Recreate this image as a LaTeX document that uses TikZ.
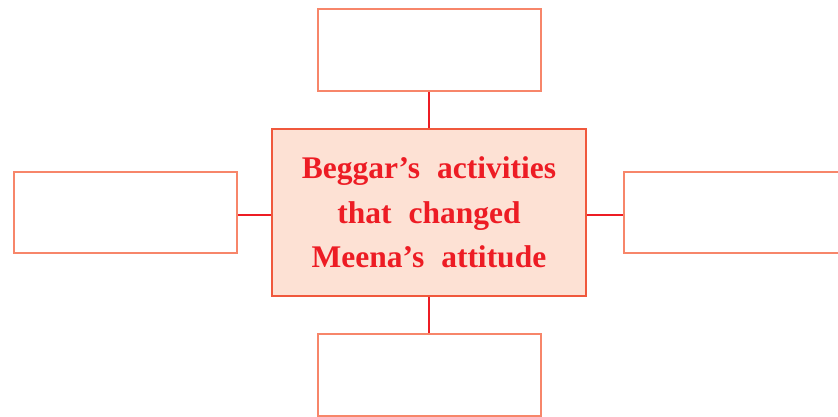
\documentclass[tikz,border=0pt]{standalone}
\usepackage{fontspec}
\setmainfont{Liberation Serif}
\definecolor{boxline}{RGB}{247,134,106}
\definecolor{cline}{RGB}{240,88,60}
\definecolor{cfill}{RGB}{253,225,212}
\definecolor{conn}{RGB}{237,28,36}
\definecolor{txt}{RGB}{237,28,36}
\begin{document}
\begin{tikzpicture}[x=1pt,y=-1pt,
  emptybox/.style={draw=boxline, line width=2.2pt, fill=white, inner sep=0pt,
    minimum width=223pt, minimum height=82pt},
  centerbox/.style={draw=cline, line width=2.6pt, fill=cfill, inner sep=0pt,
    minimum width=314pt, minimum height=167pt, align=center, text=txt,
    font=\fontsize{31.5pt}{44.5pt}\selectfont\bfseries},
  link/.style={draw=conn, line width=2.2pt}]
\useasboundingbox (0,0) rectangle (838,416);
\node[centerbox] (c) at (429,212.5) {\spaceskip=17pt Beggar’s activities\\\spaceskip=17pt that changed\\\spaceskip=17pt Meena’s attitude};
\node[emptybox] (t) at (429.5,50) {};
\node[emptybox, minimum height=81pt] (l) at (125.5,212.5) {};
\node[emptybox, minimum height=81pt] (r) at (735.5,212.5) {};
\node[emptybox] (b) at (429.5,375) {};
\draw[link] (t.south -| c.north) -- (c.north);
\draw[link] (c.south) -- (c.south |- b.north);
\draw[link] ([yshift=-2.5pt]l.east) -- ([yshift=-2.5pt]l.east -| c.west);
\draw[link] ([yshift=-2.5pt]c.east) -- ([yshift=-2.5pt]c.east -| r.west);
\end{tikzpicture}
\end{document}
